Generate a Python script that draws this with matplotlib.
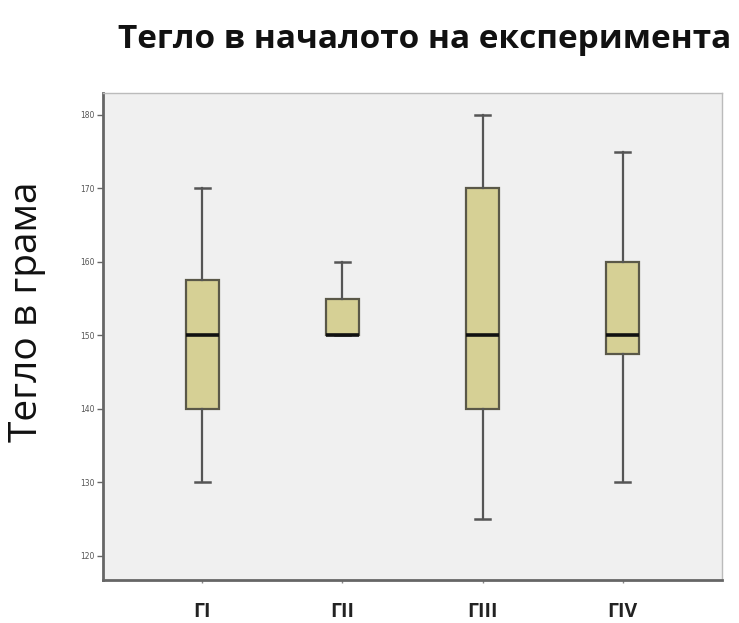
import matplotlib
matplotlib.use("Agg")
import matplotlib.pyplot as plt

groups = ["ГI", "ГII", "ГIII", "ГIV"]
whislo = [130, 150, 125, 130]
q1 = [140, 150, 140, 147.5]
med = [150, 150, 150, 150]
q3 = [157.5, 155, 170, 160]
whishi = [170, 160, 180, 175]
yticks = [120, 130, 140, 150, 160, 170, 180]

fig = plt.figure(figsize=(7.39, 6.23), dpi=100)
ax = fig.add_axes([0.1394, 0.069, 0.8376, 0.782])
ax.set_facecolor("#f0f0f0")

stats = []
for i, g in enumerate(groups):
    stats.append(dict(label=g, whislo=whislo[i], q1=q1[i], med=med[i],
                      q3=q3[i], whishi=whishi[i], fliers=[]))

ax.bxp(stats, positions=range(1, len(groups) + 1), widths=0.24,
       patch_artist=True, showfliers=False,
       boxprops=dict(facecolor="#d6d095", edgecolor="#5a5848", linewidth=1.6),
       medianprops=dict(color="#111111", linewidth=2.6),
       whiskerprops=dict(color="#555555", linewidth=1.6),
       capprops=dict(color="#555555", linewidth=1.8),
       capwidths=0.11)

ax.set_xlim(0.29, 4.71)
ax.set_ylim(116.7, 183.0)
ax.set_yticks(yticks)
ax.set_yticklabels([str(v) for v in yticks], fontsize=5.5, color="#555555")
ax.tick_params(axis="y", length=4, width=1, color="#666666", pad=2)
ax.tick_params(axis="x", length=2, width=1, color="#888888", pad=14)
for lab in ax.get_xticklabels():
    lab.set_fontsize(14)
    lab.set_fontweight("bold")
    lab.set_color("#222222")
    lab.set_family("Open Sans")

for side in ["left", "bottom"]:
    ax.spines[side].set_color("#666666")
    ax.spines[side].set_linewidth(2)
for side in ["top", "right"]:
    ax.spines[side].set_color("#bbbbbb")
    ax.spines[side].set_linewidth(1)

fig.text(0.575, 0.937, "Тегло в началото на експеримента", ha="center", va="center",
         fontsize=24, fontweight="bold", family="Open Sans", color="#111111")
fig.text(0.037, 0.50, "Тегло в грама", ha="center", va="center", rotation=90,
         fontsize=28, family="Open Sans", color="#111111")

fig.savefig("out.png", dpi=100)
